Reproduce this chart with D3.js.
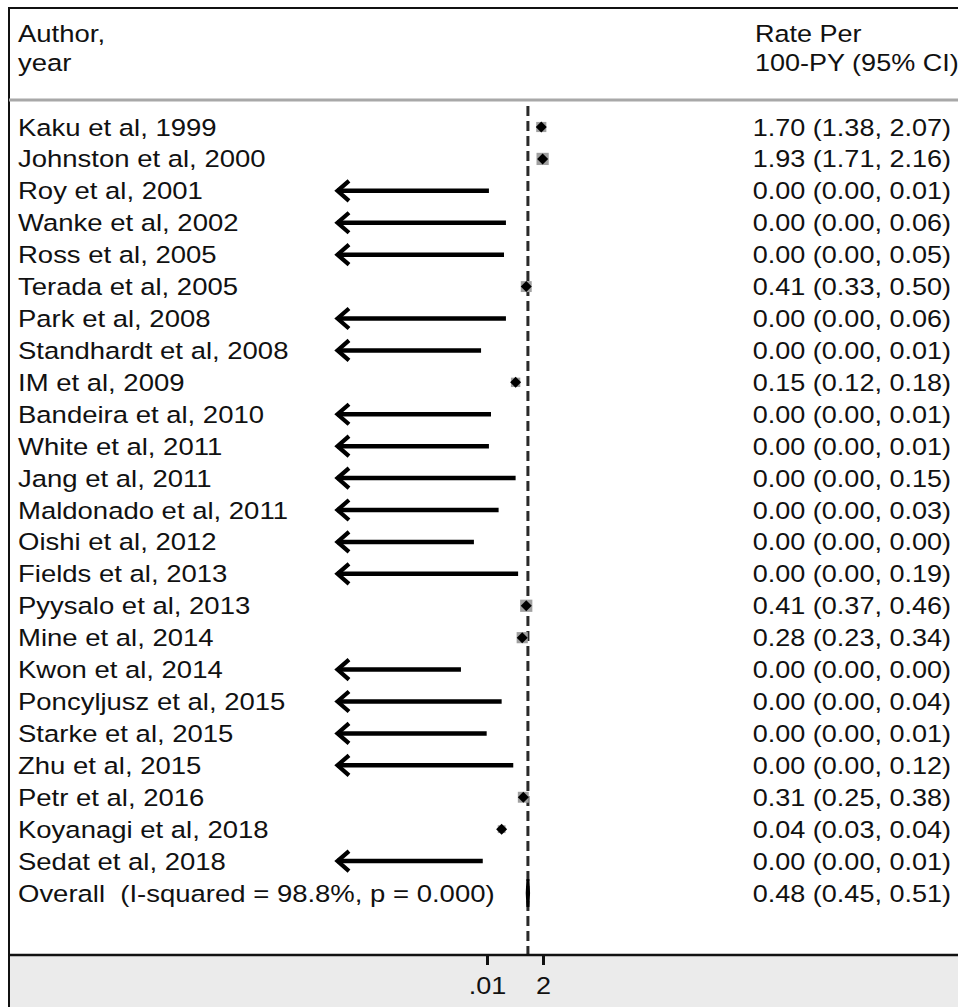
<!DOCTYPE html>
<html>
<head>
<meta charset="utf-8">
<script src="https://cdn.jsdelivr.net/npm/d3@7"></script>
<style>
html,body{margin:0;padding:0;background:#fff;}
svg{display:block;}
text{font-family:"Liberation Sans",Arial,sans-serif;fill:#111;white-space:pre;}
</style>
</head>
<body>
<svg id="chart" width="958" height="1007"></svg>
<script>
// ---- data ----
const authors = ["Kaku et al, 1999","Johnston et al, 2000","Roy et al, 2001","Wanke et al, 2002","Ross et al, 2005","Terada et al, 2005","Park et al, 2008","Standhardt et al, 2008","IM et al, 2009","Bandeira et al, 2010","White et al, 2011","Jang et al, 2011","Maldonado et al, 2011","Oishi et al, 2012","Fields et al, 2013","Pyysalo et al, 2013","Mine et al, 2014","Kwon et al, 2014","Poncyljusz et al, 2015","Starke et al, 2015","Zhu et al, 2015","Petr et al, 2016","Koyanagi et al, 2018","Sedat et al, 2018"];
const rates = [1.70,1.93,0,0,0,0.41,0,0,0.15,0,0,0,0,0,0,0.41,0.28,0,0,0,0,0.31,0.04,0];
const lowers = [1.38,1.71,0,0,0,0.33,0,0,0.12,0,0,0,0,0,0,0.37,0.23,0,0,0,0,0.25,0.03,0];
const uppers = [2.07,2.16,0.012,0.06,0.05,0.50,0.06,0.0057,0.18,0.0146,0.012,0.15,0.03,0.0029,0.19,0.46,0.34,0.00085,0.04,0.0097,0.12,0.38,0.04,0.0067];
const weights = [3.9,4.7,0,0,0,4.2,0,0,3.6,0,0,0,0,0,0,4.7,4.3,0,0,0,0,4.2,3.0,0]; // relative box weight
const overall = {label:"Overall  (I-squared = 98.8%, p = 0.000)", rate:0.48, lower:0.45, upper:0.51};
const tickValues = [0.01, 2];
const tickLabels = [".01", "2"];
const headerLeft = ["Author,", "year"];
const headerRight = ["Rate Per", "100-PY (95% CI)"];

// ---- layout ----
const svg = d3.select("#chart");
const W = 958, H = 1007;
const frameL = 9, frameT = 8, axisY = 955;
const plotLeft = 336; // clipping limit of the x axis
const fs = 23.5, sxL = 1.17, sxR = 1.15;
const x = d3.scaleLog().domain([0.01, 2]).range([487, 543]);
const nRows = authors.length + 1;
const y = d3.scaleLinear().domain([0, nRows - 1]).range([127, 893]);
const fmt = d3.format(".2f");

// bottom gray region
svg.append("rect").attr("x", frameL).attr("y", axisY).attr("width", W - frameL).attr("height", H - axisY).attr("fill", "#ebebeb");

// frame
svg.append("line").attr("x1", frameL).attr("x2", W).attr("y1", frameT).attr("y2", frameT).attr("stroke", "#111").attr("stroke-width", 2);
svg.append("line").attr("x1", frameL).attr("x2", frameL).attr("y1", frameT - 1).attr("y2", H).attr("stroke", "#111").attr("stroke-width", 2);
// header separator
svg.append("line").attr("x1", frameL).attr("x2", W).attr("y1", 100).attr("y2", 100).attr("stroke", "#a8a8a8").attr("stroke-width", 3);

function txt(s, tx, ty, anchor, sx) {
  svg.append("text").attr("transform", `translate(${tx},${ty}) scale(${sx},1)`)
    .attr("xml:space", "preserve")
    .attr("text-anchor", anchor || "start").attr("font-size", fs).text(s);
}

// header
headerLeft.forEach((s, i) => txt(s, 18, 42 + i * 29, "start", sxL));
headerRight.forEach((s, i) => txt(s, 755, 42 + i * 29, "start", sxR));

// dashed overall line
svg.append("line").attr("x1", x(overall.rate)).attr("x2", x(overall.rate))
  .attr("y1", 106).attr("y2", axisY).attr("stroke", "#2a2a2a").attr("stroke-width", 3)
  .attr("stroke-dasharray", "10,5");

// study rows
const studies = authors.map((a, i) => ({a, r: rates[i], l: lowers[i], u: uppers[i], w: weights[i], i}));
studies.forEach(d => {
  const cy = y(d.i);
  txt(d.a, 18, cy + 8.5, "start", sxL);
  txt(`${fmt(d.r)} (${fmt(d.l)}, ${fmt(d.u)})`, 951, cy + 8.5, "end", sxR);
  if (d.l <= 0) {
    // CI clipped at lower limit -> arrow
    const xe = x(d.u);
    svg.append("line").attr("x1", plotLeft + 1).attr("x2", xe).attr("y1", cy).attr("y2", cy)
      .attr("stroke", "#000").attr("stroke-width", 4.5);
    svg.append("path").attr("d", `M${plotLeft + 13},${cy - 10} L${plotLeft + 1.5},${cy} L${plotLeft + 13},${cy + 10}`)
      .attr("fill", "none").attr("stroke", "#000").attr("stroke-width", 4.2).attr("stroke-linejoin", "miter");
  } else {
    const cx = x(d.r);
    const b = d.w * 2.6;
    svg.append("rect").attr("x", cx - b / 2).attr("y", cy - b / 2).attr("width", b).attr("height", b).attr("fill", "#a0a0a0");
    svg.append("line").attr("x1", x(d.l)).attr("x2", x(d.u)).attr("y1", cy).attr("y2", cy).attr("stroke", "#000").attr("stroke-width", 1.5);
    svg.append("path").attr("d", `M${cx},${cy - 5.5} L${cx + 5.5},${cy} L${cx},${cy + 5.5} L${cx - 5.5},${cy} Z`).attr("fill", "#000");
  }
});

// overall row
{
  const cy = y(nRows - 1);
  txt(overall.label, 18, cy + 8.5, "start", sxL);
  txt(`${fmt(overall.rate)} (${fmt(overall.lower)}, ${fmt(overall.upper)})`, 951, cy + 8.5, "end", sxR);
  const h = 14;
  svg.append("path").attr("d", `M${x(overall.lower)},${cy} L${x(overall.rate)},${cy - h} L${x(overall.upper)},${cy} L${x(overall.rate)},${cy + h} Z`)
    .attr("fill", "#000").attr("stroke", "#000").attr("stroke-width", 3);
}

// axis
const axis = d3.axisBottom(x).tickValues(tickValues).tickFormat((d, i) => tickLabels[i]).tickSize(10).tickPadding(12);
const g = svg.append("g").attr("transform", `translate(0,${axisY})`).call(axis);
g.select(".domain").remove();
g.selectAll(".tick line").attr("stroke", "#111").attr("stroke-width", 3);
g.selectAll(".tick text").attr("font-size", fs).attr("fill", "#111")
  .attr("font-family", "Liberation Sans, Arial, sans-serif")
  .attr("transform", `scale(${sxR},1)`).attr("x", 0);
svg.append("line").attr("x1", frameL).attr("x2", W).attr("y1", axisY).attr("y2", axisY).attr("stroke", "#111").attr("stroke-width", 2.5);
</script>
</body>
</html>
